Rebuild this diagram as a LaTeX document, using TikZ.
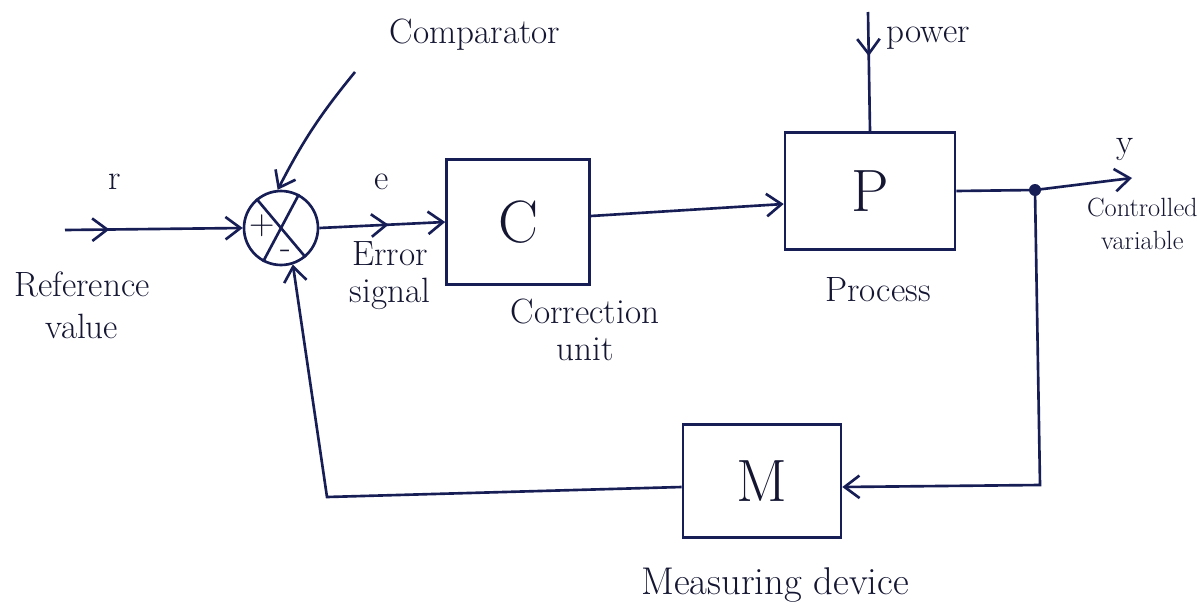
\documentclass[tikz,border=0pt]{standalone}
\usetikzlibrary{arrows.meta,decorations.markings,calc}
\definecolor{ink}{RGB}{22,30,85}
\definecolor{txt}{RGB}{20,22,50}
\tikzset{
  blk/.style={draw=ink, line width=1.5pt, inner sep=0pt},
  conn/.style={draw=ink, line width=1.5pt, -{Straight Barb[length=3mm,width=4.5mm]}},
  wire/.style={draw=ink, line width=1.5pt},
  midarrow/.style={postaction={decorate}, decoration={markings, mark=at position #1 with {\arrow{Straight Barb[length=3mm,width=4.5mm]}}}},
  lbl/.style={text=txt, font=\fontsize{20}{22}\selectfont, align=center, inner sep=0pt},
  big/.style={text=txt, font=\fontsize{34}{36}\selectfont},
}
\begin{document}
\begin{tikzpicture}[x=0.02cm,y=-0.02cm]
\useasboundingbox (0,0) rectangle (1200,612);
\fill[white] (0,0) rectangle (1200,612);

% comparator
\node[blk, circle, minimum size=1.48cm] (cmp) at (281,228) {};
\draw[wire] (cmp.130) -- (cmp.-50);
\draw[wire] (cmp.62) -- (cmp.242);
\node[lbl] (plus) at (262,226) {+};
\node[lbl] (minus) at (286,254) {-};

% blocks
\node[blk, minimum width=2.86cm, minimum height=2.5cm, big] (C) at (518,222) {C};
\node[blk, minimum width=3.4cm, minimum height=2.34cm, big] (P) at (870,191) {P};
\node[blk, minimum width=3.16cm, minimum height=2.26cm, big] (M) at (762,481) {M};

% coordinates
\coordinate (rin) at (65,230);
\coordinate (pwr) at (868,12);
\coordinate (dot) at (1035,190);
\coordinate (yout) at (1132,178);
\coordinate (fbr) at (1040,485);
\coordinate (fbl) at (327,497);
\coordinate (cmpl) at (355,72);

% connectors
\draw[conn, midarrow=0.25] (rin) -- (cmp.west);
\draw[conn, midarrow=0.55] (cmp.east) -- (C.west);
\draw[conn] ($(C.east)+(0,-6)$) -- ($(P.west)+(0,13)$);
\draw[wire, midarrow=0.37] (pwr) -- (P.north);
\draw[wire] (P.east) -- (dot);
\draw[conn] (dot) -- (yout);
\fill[ink] (dot) circle (0.12cm);
\draw[conn] (dot) -- (fbr) -- ($(M.east)+(0,6)$);
\draw[conn] ($(M.west)+(0,6)$) -- (fbl) -- (cmp.-72);
\draw[conn] (cmpl) to[bend right=6] (cmp.95);

% labels
\node[lbl] (tcmp) at (475,35) {Comparator};
\node[lbl] (tr) at (115,182) {r};
\node[lbl] (tref) at (82,305) {Reference\\[2pt]value};
\node[lbl] (te) at (382,182) {e};
\node[lbl] (terr) at (390,276) {Error\\[-1pt]signal};
\node[lbl] (tcorr) at (585,330) {Correction\\[-1pt]unit};
\node[lbl] (tproc) at (878,290) {Process};
\node[lbl] (tpow) at (928,38) {power};
\node[lbl] (ty) at (1125,150) {y};
\node[lbl, anchor=east, font=\fontsize{15}{17}\selectfont] (tctl) at (1198,224) {Controlled\\[2pt]variable};
\node[lbl, font=\fontsize{22}{24}\selectfont] (tmeas) at (775,585) {Measuring device};
\end{tikzpicture}
\end{document}
